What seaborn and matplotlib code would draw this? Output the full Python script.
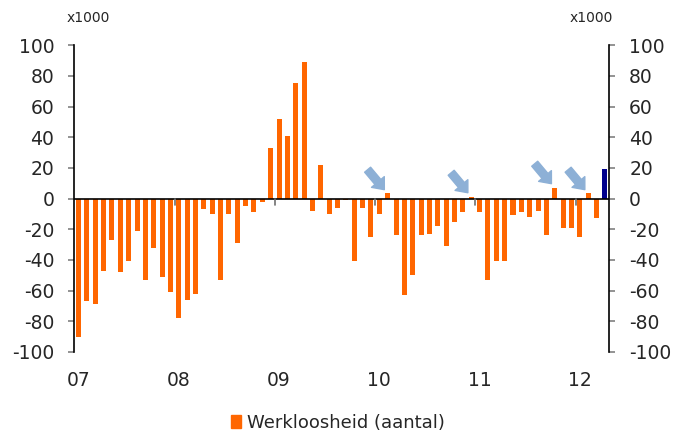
import numpy as np
import pandas as pd
import matplotlib
matplotlib.use("Agg")
import matplotlib.pyplot as plt
import seaborn as sns

# maandelijkse mutatie werkloosheid, x1000, jan 2007 - apr 2012
maanden = pd.period_range("2007-01", "2012-04", freq="M").strftime("%Y-%m").tolist()
werkloosheid = [
    -90, -67, -69, -47, -27, -48, -41, -21, -53, -32, -51, -61,   # 2007
    -78, -66, -62, -7, -10, -53, -10, -29, -5, -9, -2, 33,        # 2008
    52, 41, 75, 89, -8, 22, -10, -6, -1, -41, -6, -25,            # 2009
    -10, 3.3, -24, -63, -50, -24, -23, -18, -31, -15, -9, 1.3,    # 2010
    -9, -53, -41, -41, -11, -9, -12, -8, -24, 7.2, -19, -19,      # 2011
    -25, 3.3, -13, 19,                                            # 2012
]
jaar_labels = ["07", "08", "09", "10", "11", "12"]
# bars waar de pijlen naar wijzen (index in maanden)
pijl_bars = [37, 47, 57, 61]

ORANJE = "#FF6600"
NAVY = "#00008C"
PIJL = "#8DB0D6"


def main():
    df = pd.DataFrame({"maand": maanden, "waarde": werkloosheid})
    df["reeks"] = "Werkloosheid (aantal)"
    df.loc[df.index[-1], "reeks"] = "laatste"

    sns.set_style("white")
    plt.rcParams["font.family"] = ["DejaVu Sans"]
    plt.rcParams["axes.unicode_minus"] = False

    fig = plt.figure(figsize=(6.76, 4.34), dpi=100)
    ax = fig.add_axes([0.110, 0.189, 0.791, 0.707])

    sns.barplot(data=df, x="maand", y="waarde", hue="reeks",
                palette={"Werkloosheid (aantal)": ORANJE, "laatste": NAVY},
                dodge=False, width=0.6, legend=False, ax=ax,
                edgecolor="none", saturation=1)

    n = len(maanden)
    ax.set_xlim(-0.5, n - 0.5)
    ax.set_ylim(-100, 100)
    ax.set_yticks(np.arange(-100, 101, 20))
    ax.axhline(0, color="black", lw=1.2, zorder=3)

    # jaarmarkeringen op de nullijn
    for i in range(12, n, 12):
        ax.plot([i - 0.5, i - 0.5], [0, -4.5], color="#707070", lw=1.2,
                zorder=3, clip_on=False)

    ax.set_xticks(range(0, n, 12))
    ax.set_xticklabels(jaar_labels)
    ax.set_xlabel("")
    ax.set_ylabel("")
    ax.tick_params(axis="x", length=0, pad=14, labelsize=13.5)
    ax.tick_params(axis="y", length=4.5, width=1.2, color="#808080",
                   pad=10, labelsize=13.5, direction="out")

    for s in ["top", "bottom", "right"]:
        ax.spines[s].set_visible(False)
    ax.spines["left"].set_color("black")
    ax.spines["left"].set_linewidth(1.2)

    ax2 = ax.twinx()
    ax2.set_ylim(-100, 100)
    ax2.set_yticks(np.arange(-100, 101, 20))
    ax2.tick_params(axis="y", length=4.5, width=1.2, color="#808080",
                    pad=10, labelsize=13.5, direction="out")
    for s in ["top", "bottom", "left"]:
        ax2.spines[s].set_visible(False)
    ax2.spines["right"].set_color("black")
    ax2.spines["right"].set_linewidth(1.2)

    fig.text(0.099, 0.958, "x1000", fontsize=10, va="center", ha="left")
    fig.text(0.843, 0.958, "x1000", fontsize=10, va="center", ha="left")

    # pijlen naar de positieve uitschieters
    for i in pijl_bars:
        v = werkloosheid[i]
        ax.annotate("", xy=(i - 0.4, v + 2.5), xytext=(i - 2.4, v + 15.5),
                    arrowprops=dict(arrowstyle="simple,head_length=0.45,head_width=0.75,tail_width=0.35",
                                    color=PIJL, mutation_scale=16,
                                    shrinkA=0, shrinkB=0), zorder=4)

    # legenda
    handle = plt.Rectangle((0, 0), 1, 1, color=ORANJE)
    fig.legend([handle], ["Werkloosheid (aantal)"], loc="center",
               bbox_to_anchor=(0.5, 0.025), frameon=False, fontsize=13,
               handlelength=0.55, handleheight=0.75, handletextpad=0.3,
               borderaxespad=0)

    fig.savefig("out.png", dpi=100)


if __name__ == "__main__":
    main()
